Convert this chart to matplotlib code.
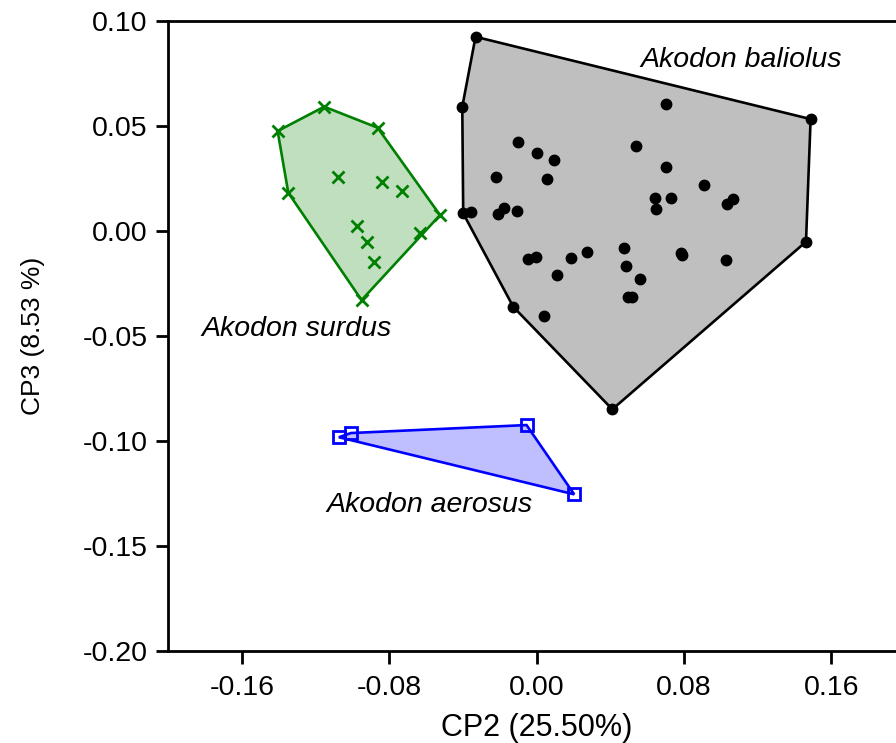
import numpy as np
import matplotlib
matplotlib.use("Agg")
import matplotlib.pyplot as plt
from matplotlib.patches import Polygon

plt.rcParams['font.family'] = ['Liberation Sans', 'DejaVu Sans']

# PCA scores (CP2, CP3)
baliolus_x = [-0.0332, -0.0404, -0.0399, -0.0127, 0.0411, 0.1463, 0.1488,
              0.0704, -0.0100, 0.0002, 0.0094, 0.0539, -0.0223, 0.0058, 0.0700,
              0.0910, 0.0642, 0.0729, 0.0646, 0.1068, 0.1034, -0.0354, -0.0212,
              -0.0178, -0.0107, -0.0046, -0.0004, 0.0184, 0.0275, 0.0474, 0.0108,
              0.0487, 0.0564, 0.0498, 0.0519, 0.0782, 0.0791, 0.1026, 0.0040]
baliolus_y = [0.0925, 0.0592, 0.0084, -0.0361, -0.0849, -0.0051, 0.0533,
              0.0603, 0.0422, 0.0373, 0.0337, 0.0405, 0.0257, 0.0246, 0.0306,
              0.0218, 0.0159, 0.0156, 0.0106, 0.0152, 0.0127, 0.0090, 0.0080,
              0.0108, 0.0095, -0.0135, -0.0124, -0.0130, -0.0102, -0.0080, -0.0211,
              -0.0167, -0.0227, -0.0314, -0.0314, -0.0103, -0.0114, -0.0138, -0.0405]

surdus_x = [-0.1407, -0.1154, -0.0864, -0.0525, -0.0951, -0.1349, -0.0634,
            -0.1081, -0.0842, -0.0734, -0.0978, -0.0919, -0.0884]
surdus_y = [0.0476, 0.0592, 0.0492, 0.0076, -0.0329, 0.0182, -0.0011,
            0.0256, 0.0235, 0.0190, 0.0024, -0.0054, -0.0146]

aerosus_x = [-0.1074, -0.1009, -0.0055, 0.0204]
aerosus_y = [-0.0982, -0.0962, -0.0924, -0.1254]


def convex_hull(xs, ys):
    pts = sorted(set(zip(xs, ys)))
    def cross(o, a, b):
        return (a[0]-o[0])*(b[1]-o[1]) - (a[1]-o[1])*(b[0]-o[0])
    lower = []
    for p in pts:
        while len(lower) >= 2 and cross(lower[-2], lower[-1], p) <= 0:
            lower.pop()
        lower.append(p)
    upper = []
    for p in reversed(pts):
        while len(upper) >= 2 and cross(upper[-2], upper[-1], p) <= 0:
            upper.pop()
        upper.append(p)
    return np.array(lower[:-1] + upper[:-1])


fig = plt.figure(figsize=(8.96, 7.43), dpi=100)
ax = fig.add_axes([0.188, 0.1238, 0.8219, 0.8479])

groups = [
    (baliolus_x, baliolus_y, 'black', 'o', 1.9, dict(markersize=7.5)),
    (surdus_x, surdus_y, 'green', 'x', 1.9, dict(markersize=8, markeredgewidth=2)),
    (aerosus_x, aerosus_y, 'blue', 's', 1.9, dict(markersize=9, markerfacecolor='none', markeredgewidth=2)),
]
for xs, ys, col, mk, lw, kw in groups:
    hull = convex_hull(xs, ys)
    ax.add_patch(Polygon(hull, closed=True, facecolor=col, alpha=0.25, edgecolor='none'))
    ax.add_patch(Polygon(hull, closed=True, facecolor='none', edgecolor=col, lw=lw))
    ax.plot(xs, ys, linestyle='none', marker=mk, color=col, **kw)

fs = 20.5
ax.text(0.0563, 0.0814, 'Akodon baliolus', style='italic', fontsize=fs, va='center')
ax.text(-0.1821, -0.0467, 'Akodon surdus', style='italic', fontsize=fs, va='center')
ax.text(-0.1143, -0.1305, 'Akodon aerosus', style='italic', fontsize=fs, va='center')

ax.set_xlim(-0.20, 0.20)
ax.set_ylim(-0.20, 0.10)
ax.set_xticks([-0.16, -0.08, 0.00, 0.08, 0.16])
ax.set_xticklabels(['-0.16', '-0.08', '0.00', '0.08', '0.16'])
ax.set_yticks([0.10, 0.05, 0.00, -0.05, -0.10, -0.15, -0.20])
ax.set_yticklabels(['0.10', '0.05', '0.00', '-0.05', '-0.10', '-0.15', '-0.20'])
ax.tick_params(axis='both', direction='out', length=9, width=2, labelsize=fs)
ax.tick_params(axis='x', pad=8)
ax.tick_params(axis='y', pad=6)
for s in ax.spines.values():
    s.set_linewidth(2)

ax.set_xlabel('CP2 (25.50%)', fontsize=22, labelpad=9)
ax.set_ylabel('CP3 (8.53 %)', fontsize=19, labelpad=27)

fig.savefig('out.png', dpi=100)
